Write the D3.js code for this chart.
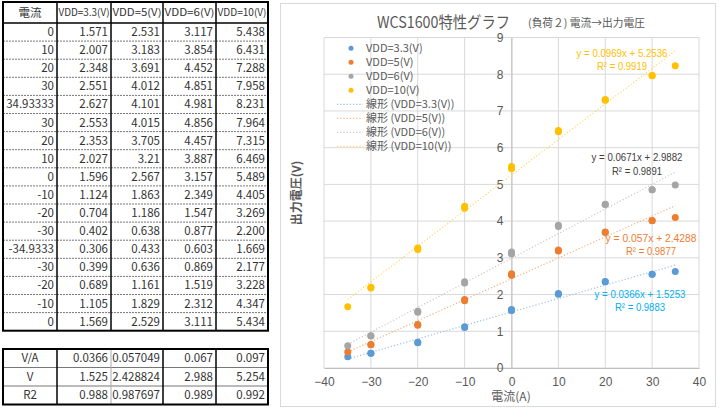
<!DOCTYPE html>
<html><head><meta charset="utf-8">
<script src="https://cdn.jsdelivr.net/npm/d3@7/dist/d3.min.js"></script>
<style>body{margin:0;background:#fff}svg{display:block}</style>
</head><body>
<svg id="c" width="719" height="411"></svg>
<script>
// ---- data ----
const currents = [0,10,20,30,34.93333,30,20,10,0,-10,-20,-30,-34.9333,-30,-20,-10,0];
const vdd33 = [1.571,2.007,2.348,2.551,2.627,2.553,2.353,2.027,1.596,1.124,0.704,0.402,0.306,0.399,0.689,1.105,1.569];
const vdd5  = [2.531,3.183,3.691,4.012,4.101,4.015,3.705,3.21,2.567,1.863,1.186,0.638,0.433,0.636,1.161,1.829,2.529];
const vdd6  = [3.117,3.854,4.452,4.851,4.981,4.856,4.457,3.887,3.157,2.349,1.547,0.877,0.603,0.869,1.519,2.312,3.111];
const vdd10 = [5.438,6.431,7.288,7.958,8.231,7.964,7.315,6.469,5.489,4.405,3.269,2.200,1.669,2.177,3.228,4.347,5.434];
const seriesNames = ["VDD=3.3(V)","VDD=5(V)","VDD=6(V)","VDD=10(V)"];
const fitRowLabels = ["V/A","V","R2"];
const fitSlope = [0.0366,0.057049,0.067,0.097];
const fitIntercept = [1.525,2.428824,2.988,5.254];
const fitR2 = [0.988,0.987697,0.989,0.992];
const trendSlope = [0.0366,0.057,0.0671,0.0969];
const trendIntercept = [1.5253,2.4288,2.9882,5.2536];
const trendR2 = ["0.9883","0.9877","0.9891","0.9919"];
const xTicks = [-40,-30,-20,-10,0,10,20,30,40];
const yTicks = [0,1,2,3,4,5,6,7,8,9];
const title = "WCS1600特性グラフ";
const subtitle = "(負荷２) 電流→出力電圧";
const xTitle = "電流(A)";
const yTitle = "出力電圧(V)";

const allSeries = [vdd33, vdd5, vdd6, vdd10];
const colors = ["#5B9BD5","#ED7D31","#A5A5A5","#FFC000"];
const labelColors = ["#00B0F0","#ED7D31","#404040","#FFC000"];
const FONT = "'Noto Sans CJK JP', 'Noto Sans', sans-serif";
const LFONT = "'Liberation Sans', Arial, sans-serif";

const svg = d3.select("#c");
svg.append("rect").attr("width",719).attr("height",411).attr("fill","#fff");

// ---- table ----
const colX = [3,57,111,163,216,268];
const tTop = 2, headerBottom = 23, rowH = 18.1;
const tbl = svg.append("g").attr("font-family",FONT).attr("font-size",11.5).attr("fill","#333");
const nRows = currents.length;
const tBottom = headerBottom + nRows*rowH;
for (let i=1;i<nRows;i++){
  const yy = headerBottom + i*rowH;
  tbl.append("line").attr("x1",colX[0]).attr("x2",colX[5]).attr("y1",yy).attr("y2",yy)
    .attr("stroke","#777").attr("stroke-width",1).attr("stroke-dasharray","2,1");
}
tbl.append("line").attr("x1",colX[0]).attr("x2",colX[5]).attr("y1",headerBottom).attr("y2",headerBottom).attr("stroke","#000").attr("stroke-width",1.5);
colX.slice(1,5).forEach(xx=>tbl.append("line").attr("x1",xx).attr("x2",xx).attr("y1",tTop).attr("y2",tBottom).attr("stroke","#000").attr("stroke-width",1.5));
tbl.append("rect").attr("x",colX[0]).attr("y",tTop).attr("width",colX[5]-colX[0]).attr("height",tBottom-tTop)
  .attr("fill","none").attr("stroke","#000").attr("stroke-width",2);
tbl.append("text").attr("x",(colX[0]+colX[1])/2).attr("y",(tTop+headerBottom)/2).attr("dy","0.35em").attr("text-anchor","middle").text("電流");
seriesNames.forEach((n,j)=>tbl.append("text").attr("x",(colX[j+1]+colX[j+2])/2).attr("y",(tTop+headerBottom)/2).attr("dy","0.35em")
  .attr("text-anchor","middle").attr("font-size",10).attr("textLength",colX[j+2]-colX[j+1]-3).attr("lengthAdjust","spacingAndGlyphs").text(n));
const fmt3 = d3.format(".3f");
currents.forEach((c,i)=>{
  const yc = headerBottom + (i+0.5)*rowH;
  tbl.append("text").attr("x",colX[1]-3).attr("y",yc).attr("dy","0.35em").attr("text-anchor","end").text(String(c));
  allSeries.forEach((s,j)=>{
    tbl.append("text").attr("x",colX[j+2]-3).attr("y",yc).attr("dy","0.35em").attr("text-anchor","end")
      .text(j===3 ? fmt3(s[i]) : String(s[i]));
  });
});
const fTop = 349, fRowH = 18.5;
const fitRows = [fitSlope, fitIntercept, fitR2];
const fBottom = fTop + fitRows.length*fRowH;
for (let i=1;i<fitRows.length;i++){
  const yy = fTop + i*fRowH;
  tbl.append("line").attr("x1",colX[0]).attr("x2",colX[5]).attr("y1",yy).attr("y2",yy).attr("stroke","#777").attr("stroke-width",1);
}
colX.slice(1,5).forEach((xx,k)=>tbl.append("line").attr("x1",xx).attr("x2",xx).attr("y1",fTop).attr("y2",fBottom)
  .attr("stroke",k===1?"#aaa":"#000").attr("stroke-width",k===1?1:1.5));
tbl.append("rect").attr("x",colX[0]).attr("y",fTop).attr("width",colX[5]-colX[0]).attr("height",fBottom-fTop)
  .attr("fill","none").attr("stroke","#000").attr("stroke-width",2);
fitRows.forEach((r,i)=>{
  const yc = fTop + (i+0.5)*fRowH;
  tbl.append("text").attr("x",(colX[0]+colX[1])/2).attr("y",yc).attr("dy","0.35em").attr("text-anchor","middle").text(fitRowLabels[i]);
  r.forEach((v,j)=>tbl.append("text").attr("x",colX[j+2]-3).attr("y",yc).attr("dy","0.35em").attr("text-anchor","end").text(String(v)));
});

// ---- chart ----
svg.append("rect").attr("x",280.5).attr("y",3.5).attr("width",435).attr("height",403).attr("fill","#fff").attr("stroke","#d9d9d9");
const x = d3.scaleLinear().domain([-40,40]).range([324,699]);
const y = d3.scaleLinear().domain([0,9]).range([368,37.5]);
const g = svg.append("g").attr("font-family",FONT);
g.append("g").selectAll("line").data(yTicks).join("line")
  .attr("x1",x(-40)).attr("x2",x(40)).attr("y1",d=>y(d)).attr("y2",d=>y(d)).attr("stroke","#d9d9d9").attr("stroke-width",1);
g.append("g").selectAll("line").data(xTicks).join("line")
  .attr("y1",y(0)).attr("y2",y(9)).attr("x1",d=>x(d)).attr("x2",d=>x(d)).attr("stroke","#d9d9d9").attr("stroke-width",1);
const xAxis = g.append("g").attr("transform",`translate(0,${y(0)})`)
  .call(d3.axisBottom(x).tickValues(xTicks).tickSize(0).tickPadding(9));
xAxis.select(".domain").attr("stroke","#bfbfbf");
xAxis.selectAll("text").attr("fill","#595959").attr("font-size",12).attr("font-family",LFONT);
const yAxis = g.append("g").attr("transform",`translate(${x(0)},0)`)
  .call(d3.axisLeft(y).tickValues(yTicks).tickSize(0).tickPadding(8));
yAxis.select(".domain").attr("stroke","#bfbfbf");
yAxis.selectAll("text").attr("fill","#595959").attr("font-size",12).attr("font-family",LFONT);
// titles
g.append("text").attr("x",377).attr("y",22).attr("dy","0.35em").attr("font-size",16).attr("fill","#595959")
  .attr("textLength",133).attr("lengthAdjust","spacingAndGlyphs").text(title);
g.append("text").attr("x",528).attr("y",23).attr("dy","0.35em").attr("font-size",11).attr("fill","#595959")
  .attr("textLength",117).attr("lengthAdjust","spacingAndGlyphs").text(subtitle);
g.append("text").attr("x",511).attr("y",397).attr("dy","0.35em").attr("text-anchor","middle").attr("font-size",12).attr("fill","#595959").text(xTitle);
g.append("text").attr("transform","translate(297,193) rotate(-90)").attr("dy","0.35em").attr("text-anchor","middle").attr("font-size",12).attr("font-weight","bold").attr("fill","#595959").text(yTitle);
// trendlines
const xMin = d3.min(currents), xMax = d3.max(currents);
const trendColors = ["#9DC3E6","#F4B183","#C9C9C9","#FFD966"];
allSeries.forEach((s,j)=>{
  g.append("line").attr("x1",x(xMin)).attr("y1",y(trendSlope[j]*xMin+trendIntercept[j]))
    .attr("x2",x(xMax)).attr("y2",y(trendSlope[j]*xMax+trendIntercept[j]))
    .attr("stroke",trendColors[j]).attr("stroke-width",1.2).attr("stroke-dasharray","1.2,2");
});
allSeries.forEach((s,j)=>{
  g.append("g").selectAll("circle").data(currents.map((c,i)=>[c,s[i]])).join("circle")
    .attr("cx",d=>x(d[0])).attr("cy",d=>y(d[1])).attr("r",3.5).attr("fill",colors[j]);
});
// trend labels
const labelPos = [[640,293.5,307],[651,237.5,251],[637,156.5,170.5],[622,52.5,66]];
allSeries.forEach((s,j)=>{
  const [lx,ly1,ly2] = labelPos[j];
  g.append("text").attr("x",lx).attr("y",ly1).attr("dy","0.35em").attr("text-anchor","middle").attr("font-family",LFONT).attr("font-size",11.5).attr("fill",labelColors[j])
    .attr("textLength",91).attr("lengthAdjust","spacingAndGlyphs")
    .text(`y = ${trendSlope[j]}x + ${trendIntercept[j]}`);
  g.append("text").attr("x",lx).attr("y",ly2).attr("dy","0.35em").attr("text-anchor","middle").attr("font-family",LFONT).attr("font-size",11.5).attr("fill",labelColors[j])
    .attr("textLength",50).attr("lengthAdjust","spacingAndGlyphs")
    .text(`R² = ${trendR2[j]}`);
});
// legend
const lg = g.append("g").attr("font-size",11).attr("fill","#595959");
seriesNames.forEach((n,j)=>{
  const ly = 48.3 + j*14;
  lg.append("circle").attr("cx",351).attr("cy",ly).attr("r",2.5).attr("fill",colors[j]);
  lg.append("text").attr("x",366).attr("y",ly).attr("dy","0.35em").text(n);
});
seriesNames.forEach((n,j)=>{
  const ly = 104.3 + j*14;
  lg.append("line").attr("x1",337).attr("x2",363).attr("y1",ly).attr("y2",ly).attr("stroke",trendColors[j]).attr("stroke-dasharray","1.2,2").attr("stroke-width",1.2);
  lg.append("text").attr("x",366).attr("y",ly).attr("dy","0.35em").text(`線形 (${n})`);
});
</script>
</body></html>
